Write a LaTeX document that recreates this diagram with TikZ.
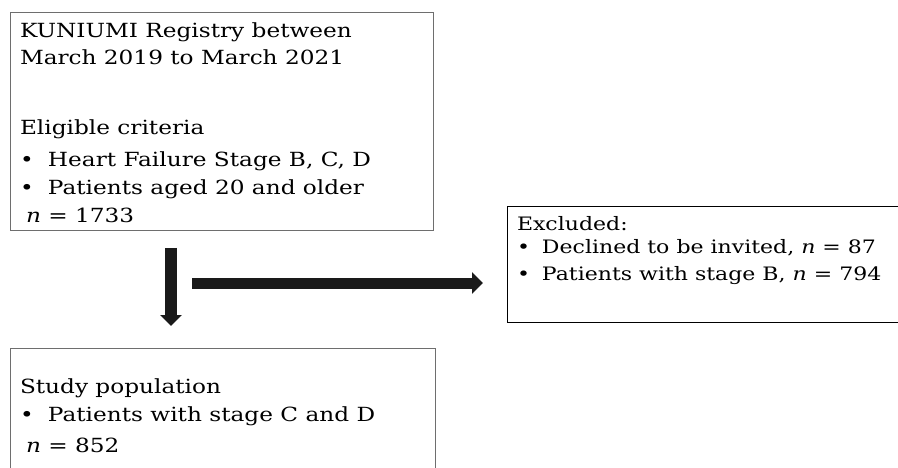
\documentclass[tikz,border=0pt]{standalone}
\usepackage{fontspec}
\setmainfont[FakeStretch=1.19]{DejaVu Serif}
\usepackage{xcolor}
\definecolor{flowgray}{RGB}{110,110,110}
\definecolor{flowdark}{RGB}{26,26,26}
\usepackage{tikz}
\usetikzlibrary{positioning,arrows.meta,calc}
\newcommand{\flowitem}[1][28pt]{\makebox[#1][l]{\textbullet}}

\begin{document}
\begin{tikzpicture}[x=1pt,y=1pt,
    flowbox/.style={draw=#1,line width=1pt,inner xsep=9.5pt,inner ysep=0pt,anchor=north west,
      font=\fontsize{19.5pt}{28pt}\selectfont},
    blockarrow/.style={draw=flowdark,line width=#1,-{Triangle[length=11pt,width=21pt]}}]
  \useasboundingbox (0,0) rectangle (898,-468);
  \clip (0,0) rectangle (898,-468);
  \node[flowbox=flowgray] (registry) at (10,-12) {\parbox[c][218pt][t]{404pt}{\vspace{10pt}
      KUNIUMI Registry between\\[-1pt]
      March 2019 to March 2021\\[42pt]
      Eligible criteria\\[4pt]
      \flowitem Heart Failure Stage B, C, D\\
      \flowitem Patients aged 20 and older\\
      \hspace*{6pt}\textit{n} = 1733}};
  \node[flowbox=black,font=\fontsize{18.5pt}{28pt}\selectfont] (excluded) at (507,-206) {\parbox[c][116pt][t]{420pt}{\vspace{10pt}
      Excluded:\\[-5pt]
      \flowitem[25pt]Declined to be invited, \textit{n} = 87\\[-1pt]
      \flowitem[25pt]Patients with stage B, \textit{n} = 794}};
  \node[flowbox=flowgray] (study) at (10,-348) {\parbox[c][140pt][t]{406pt}{\vspace{30pt}
      Study population\\
      \flowitem Patients with stage C and D\\[3pt]
      \hspace*{6pt}\textit{n} = 852}};
  \coordinate (branch) at (192,-283);
  \draw[blockarrow=12pt] ([shift={(161,-17)}]registry.south west) -- ([shift={(161,22)}]study.north west);
  \draw[blockarrow=11pt] (branch) -- ($(branch -| excluded.west)+(-24,0)$);
\end{tikzpicture}
\end{document}
